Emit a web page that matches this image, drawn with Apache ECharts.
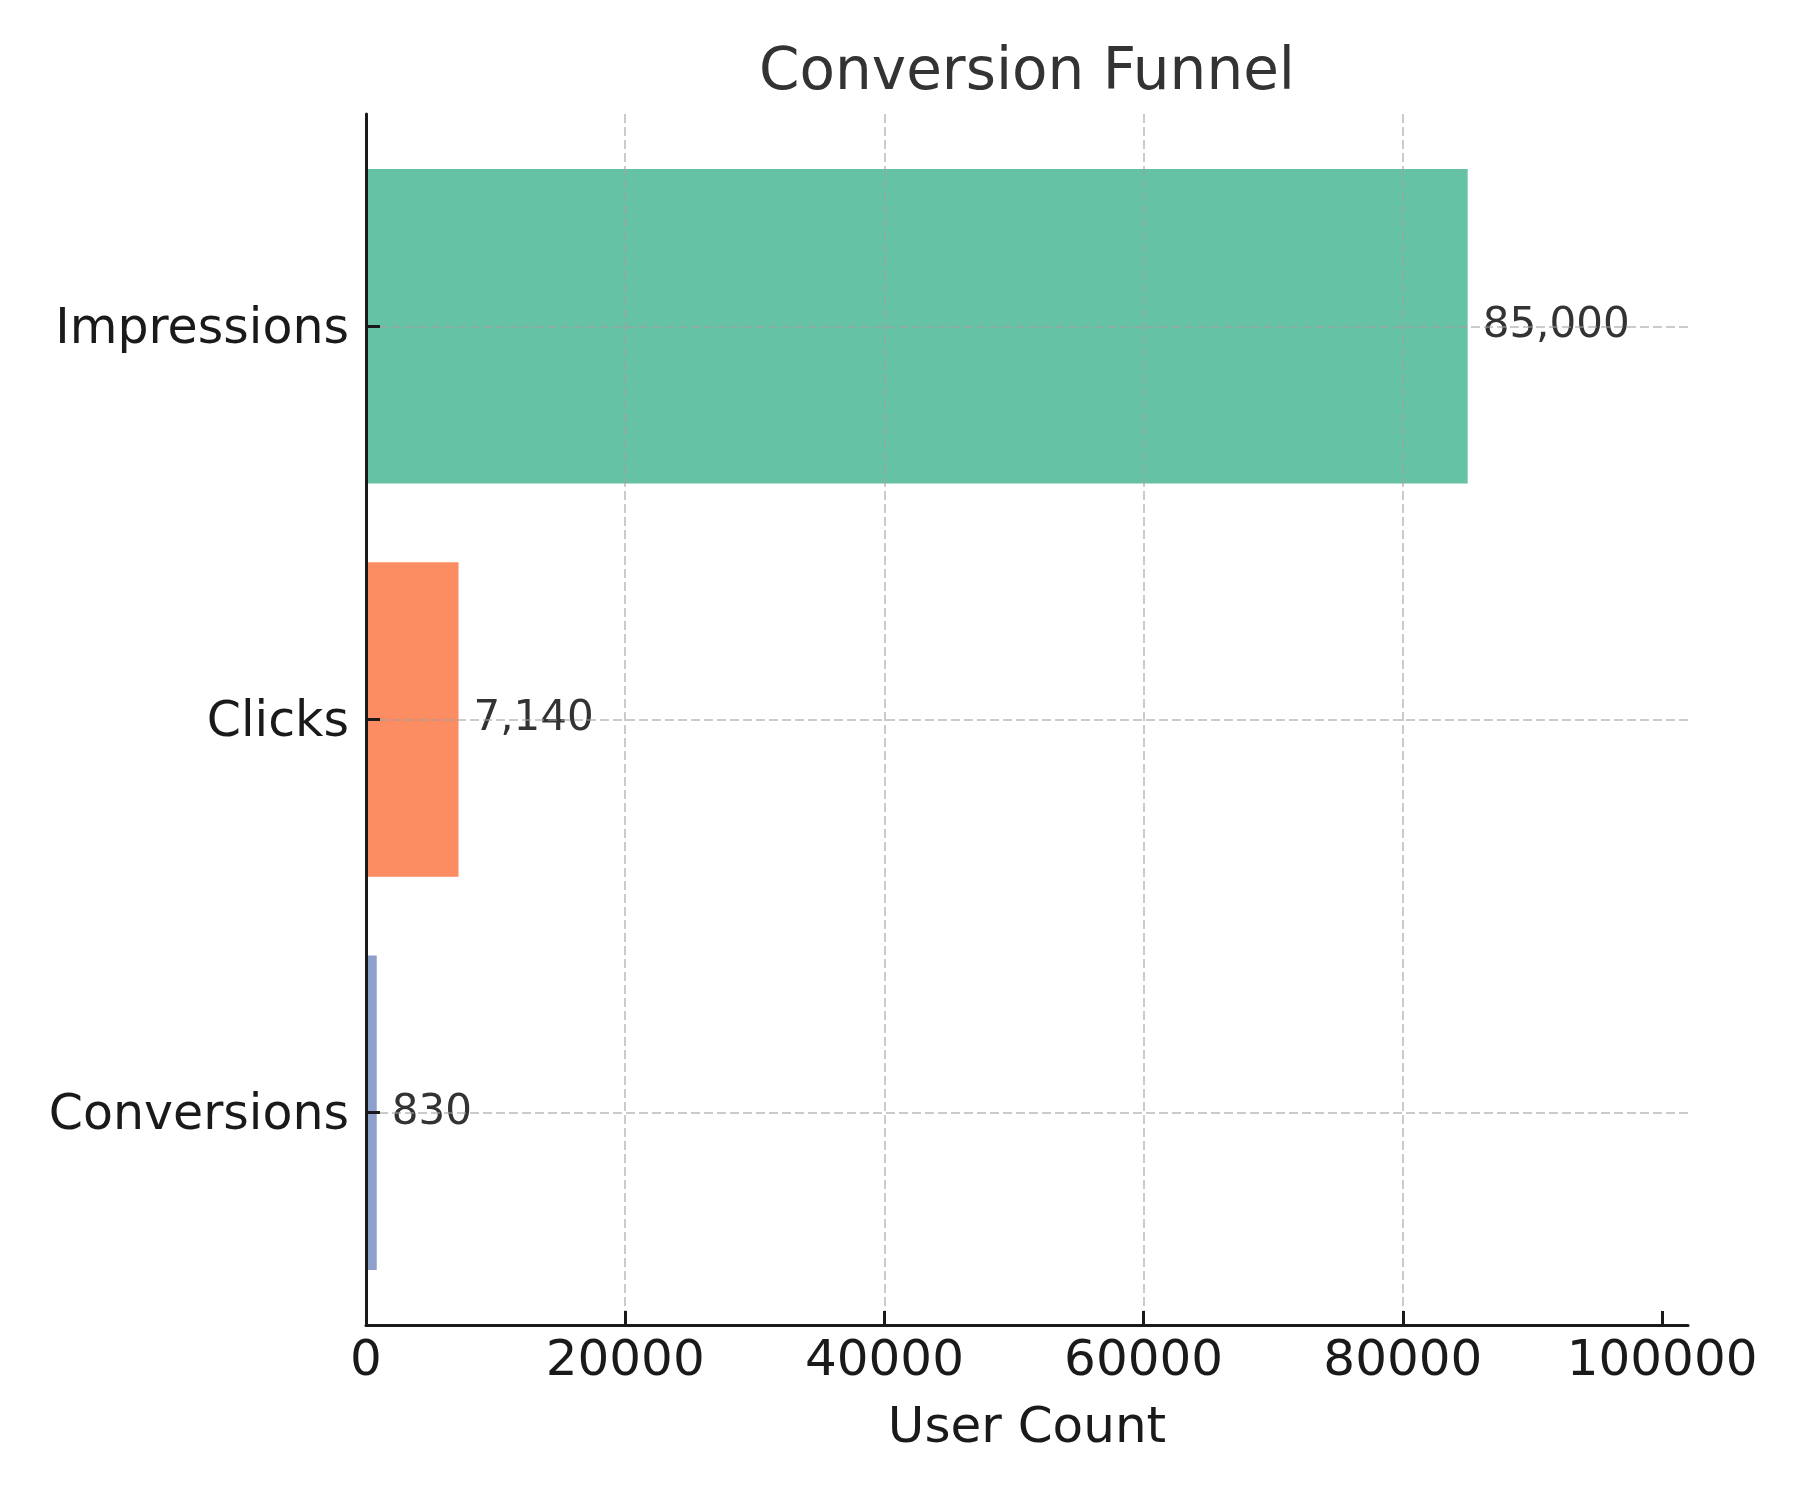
<!DOCTYPE html>
<html>
<head>
<meta charset="utf-8">
<title>Conversion Funnel</title>
<script src="https://cdn.jsdelivr.net/npm/echarts@6/dist/echarts.min.js"></script>
<style>
  html, body { margin: 0; padding: 0; background: #fff; }
  #chart { width: 1800px; height: 1500px; }
</style>
</head>
<body>
<div id="chart"></div>
<script>
// funnel stages and counts
const stages = ["Impressions", "Clicks", "Conversions"];
const userCounts = [85000, 7140, 830];
const xTicks = [0, 20000, 40000, 60000, 80000, 100000];
const xMax = 102000;
const xStep = 20000;

const palette = ["#66c2a5", "#fc8d62", "#8da0cb"];
const font = "DejaVu Sans";
const gridLine = {
  show: true,
  showMaxLine: false,
  lineStyle: { color: "rgba(160,160,160,0.55)", width: 2, type: [9, 4] },
};

// frame of the plot; bars sit in an inner grid with matplotlib-like margins
const plotL = 366, plotR = 112, plotT = 114, plotH = 1211;
const unit = plotH / 3.08; // y range -0.54 .. 2.54

const chart = echarts.init(document.getElementById("chart"));
const option = {
  backgroundColor: "#fff",
  animation: false,
  title: {
    text: "Conversion Funnel",
    left: plotL + (1800 - plotL - plotR) / 2 - 5,
    textAlign: "center",
    top: 40,
    textStyle: { fontFamily: font, fontSize: 58, fontWeight: "normal", color: "#333" },
  },
  grid: [
    // 0: frame, spines, vertical grid
    { left: plotL, right: plotR, top: plotT, height: plotH, containLabel: false },
    // 1: bars
    { left: plotL, right: plotR, top: plotT + 0.04 * unit, height: 3 * unit, containLabel: false },
    // 2: horizontal grid lines at category centres
    { left: plotL, right: plotR, top: plotT + 0.54 * unit, height: 2 * unit, containLabel: false },
  ],
  xAxis: [
    {
      gridIndex: 0,
      type: "value",
      min: 0,
      max: xMax,
      interval: xStep,
      z: 5,
      name: "User Count",
      nameLocation: "middle",
      nameGap: 79,
      nameTextStyle: { fontFamily: font, fontSize: 50, color: "#1a1a1a" },
      axisLine: { show: true, lineStyle: { color: "#1a1a1a", width: 3 } },
      axisTick: {
        show: true, inside: true, length: 14, customValues: xTicks,
        lineStyle: { color: "#1a1a1a", width: 3 },
      },
      axisLabel: {
        fontFamily: font, fontSize: 50, color: "#1a1a1a", margin: 12,
        customValues: xTicks,
        formatter: (v) => String(v),
      },
      splitLine: gridLine,
    },
    { gridIndex: 1, type: "value", min: 0, max: xMax, show: false },
    { gridIndex: 2, type: "value", min: 0, max: xMax, show: false },
  ],
  yAxis: [
    {
      gridIndex: 0,
      type: "value",
      min: 0,
      max: 1,
      z: 5,
      axisLine: { show: true, lineStyle: { color: "#1a1a1a", width: 3 } },
      axisTick: { show: false },
      axisLabel: { show: false },
      splitLine: { show: false },
    },
    {
      gridIndex: 1,
      type: "category",
      data: stages,
      inverse: true,
      z: 5,
      axisLine: { show: false },
      axisTick: { show: true, inside: true, alignWithLabel: true, length: 14, lineStyle: { color: "#1a1a1a", width: 3 } },
      axisLabel: {
        margin: 17,
        formatter: (v) => "{s|" + v + "}",
        rich: { s: { fontFamily: font, fontSize: 49, color: "#1a1a1a", padding: [7, 0, 0, 0] } },
      },
      splitLine: { show: false },
    },
    {
      gridIndex: 2,
      type: "category",
      data: stages,
      inverse: true,
      boundaryGap: false,
      z: 4,
      axisLine: { show: false },
      axisTick: { show: false },
      axisLabel: { show: false },
      splitLine: Object.assign({}, gridLine, { showMaxLine: true }),
    },
  ],
  series: [
    {
      type: "bar",
      xAxisIndex: 1,
      yAxisIndex: 1,
      barWidth: "80%",
      z: 2,
      data: userCounts.map((v, i) => ({ value: v, itemStyle: { color: palette[i] } })),
      label: {
        show: true,
        position: "right",
        distance: 15,
        fontFamily: font,
        fontSize: 42,
        color: "#333",
        formatter: (p) => p.value.toLocaleString("en-US"),
      },
    },
  ],
};
chart.setOption(option);
</script>
</body>
</html>
